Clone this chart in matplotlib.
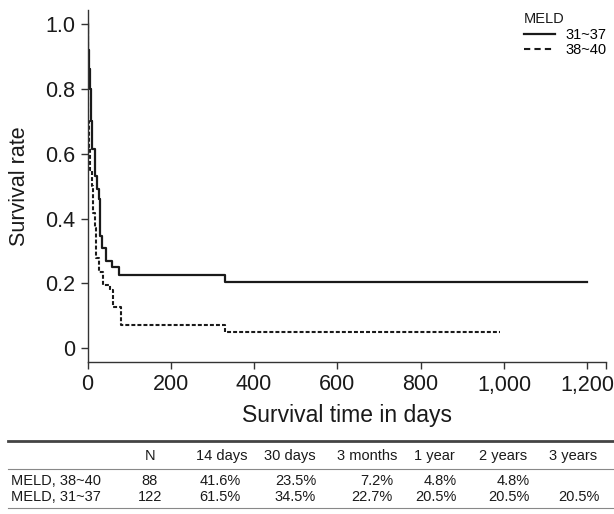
import matplotlib
matplotlib.use("Agg")
import matplotlib.pyplot as plt
from matplotlib.lines import Line2D
from matplotlib.ticker import FixedLocator

plt.rcParams['font.family'] = ['Liberation Sans', 'DejaVu Sans']

# Kaplan-Meier steps (days, survival)
days_3137 = [0, 1, 2, 4, 6, 8, 12, 18, 22, 27, 30, 36, 44, 60, 76, 330, 1200]
surv_3137 = [1.0, 0.96, 0.92, 0.86, 0.80, 0.70, 0.615, 0.53, 0.49, 0.46, 0.345,
             0.31, 0.27, 0.25, 0.227, 0.205, 0.205]
days_3840 = [0, 1, 2, 4, 7, 11, 14, 17, 21, 28, 37, 55, 61, 80, 330, 990]
surv_3840 = [1.0, 0.85, 0.70, 0.62, 0.55, 0.50, 0.416, 0.37, 0.28, 0.235, 0.195,
             0.18, 0.127, 0.072, 0.05, 0.05]

x_ticks = [0, 200, 400, 600, 800, 1000, 1200]
x_ticklabels = ['0', '200', '400', '600', '800', '1,000', '1,200']
y_ticks = [0, 0.2, 0.4, 0.6, 0.8, 1.0]
y_ticklabels = ['0', '0.2', '0.4', '0.6', '0.8', '1.0']

# survival table
table_header = ['N', '14 days', '30 days', '3 months', '1 year', '2 years', '3 years']
row_names = ['MELD, 38~40', 'MELD, 31~37']
n_patients = ['88', '122']
rates_3840 = ['41.6%', '23.5%', '7.2%', '4.8%', '4.8%', '']
rates_3137 = ['61.5%', '34.5%', '22.7%', '20.5%', '20.5%', '20.5%']

W, H = 614, 514
fig = plt.figure(figsize=(W / 100, H / 100), dpi=100)


def fx(px):
    return px / W


def fy(py):
    return 1 - py / H


ax = fig.add_axes([fx(87.5), fy(362), fx(606) - fx(87.5), fy(10) - fy(362)])
ink = '#1a1a1a'

ax.step(days_3137, surv_3137, where='post', color=ink, lw=1.6)
ax.step(days_3840, surv_3840, where='post', color=ink, lw=1.5, dashes=(1.9, 1.0))

ax.set_xlim(0, 1245)
ax.set_ylim(-0.042, 1.043)
ax.set_xticks(x_ticks)
ax.set_xticklabels(x_ticklabels)
ax.xaxis.set_minor_locator(FixedLocator([1245]))
ax.set_yticks(y_ticks)
ax.set_yticklabels(y_ticklabels)
for s in ['top', 'right']:
    ax.spines[s].set_visible(False)
for s in ['left', 'bottom']:
    ax.spines[s].set_linewidth(1.0)
    ax.spines[s].set_color('#333333')
ax.tick_params(which='both', direction='out', length=5, width=1.0, color='#333333',
               labelsize=15.5, labelcolor=ink, pad=4)
ax.set_xlabel('Survival time in days', fontsize=16.5, color=ink, labelpad=6)
ax.set_ylabel('Survival rate', fontsize=15.5, color=ink, labelpad=11)

# legend
handles = [Line2D([], [], color=ink, lw=1.6),
           Line2D([], [], color=ink, lw=1.5, dashes=(3, 2))]
leg = ax.legend(handles, ['31~37', '38~40'], title='MELD', loc='upper left',
                bbox_to_anchor=(fx(514), fy(2)), bbox_transform=fig.transFigure,
                frameon=False, fontsize=10.5, title_fontsize=10.5,
                handlelength=2.1, handletextpad=0.7, labelspacing=0.1,
                borderpad=0.2, alignment='left')
leg.get_title().set_color(ink)

# table
fig.add_artist(Line2D([fx(8), fx(614)], [fy(441), fy(441)], color='#444444', lw=2.0))
fig.add_artist(Line2D([fx(8), fx(614)], [fy(469), fy(469)], color='#888888', lw=0.8))
fig.add_artist(Line2D([fx(8), fx(614)], [fy(508), fy(508)], color='#888888', lw=0.8))

tsize = 10.5
head_x = [150, 222, 289.5, 367, 434.5, 503.5, 573]
for txt, x in zip(table_header, head_x):
    fig.text(fx(x), fy(456), txt, ha='center', va='center', fontsize=tsize, color=ink)

val_right = [241, 316, 393, 457, 530, 600]
row_y = [481, 497]
for name, n, rates, y in zip(row_names, n_patients, [rates_3840, rates_3137], row_y):
    fig.text(fx(11), fy(y), name, ha='left', va='center', fontsize=tsize, color=ink)
    fig.text(fx(150), fy(y), n, ha='center', va='center', fontsize=tsize, color=ink)
    for r, x in zip(rates, val_right):
        fig.text(fx(x), fy(y), r, ha='right', va='center', fontsize=tsize, color=ink)

fig.savefig('out.png', dpi=100)
